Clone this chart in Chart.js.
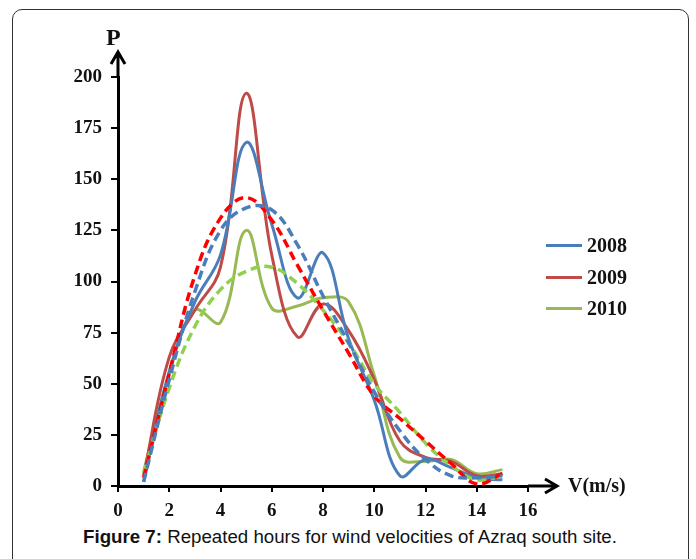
<!DOCTYPE html>
<html lang="en">
<head>
    <meta charset="UTF-8">
    <title>Figure 7 - Azraq south site</title>
    <script src="https://cdn.jsdelivr.net/npm/chart.js"></script>
    <style>
        body { margin: 0; background: #fff; width: 696px; height: 559px; overflow: hidden; position: relative; }
        .frame { position: absolute; left: 12px; top: 9px; width: 675px; height: 600px; border: 1.5px solid #333; border-radius: 10px 10px 0 0; }
        .chart-box { position: absolute; left: 0; top: 0; width: 696px; height: 516px; }
        .serif { font-family: 'Liberation Serif', 'Times New Roman', serif; font-weight: bold; color: #111; position: absolute; }
        #legend { position: absolute; left: 546px; top: 230px; width: 87px; overflow: hidden; }
        .legend-row { display: flex; align-items: center; height: 31.5px; }
        .legend-line { width: 36px; height: 3px; margin-right: 5px; }
        .caption { position: absolute; left: 0; top: 526px; width: 700px; text-align: center; font-family: 'Liberation Sans', Arial, sans-serif; font-size: 18.7px; color: #111; }
    </style>
</head>
<body>
    <div class="frame"></div>
    <div class="chart-box"><canvas id="chart" width="696" height="516"></canvas></div>
    <div class="serif" style="left:106px; top:24px; font-size:24px;">P</div>
    <div class="serif" style="left:568px; top:474px; width:61px; overflow:hidden; white-space:nowrap; font-size:20px;">V(m/s)</div>
    <div id="legend"></div>
    <div class="caption"><b>Figure 7:</b> Repeated hours for wind velocities of Azraq south site.</div>

    <script>
        // wind velocity classes (m/s)
        const velocities = [1, 2, 3, 4, 5, 6, 7, 8, 9, 10, 11, 12, 13, 14, 15];

        // repeated hours, measured
        const hours2008 = [2, 56, 90, 113, 168, 128, 92, 114, 72, 42, 5, 13, 9, 4, 3];
        const hours2009 = [5, 63, 86, 107, 192, 113, 73, 89, 76, 52, 22, 14, 12, 5, 6];
        const hours2010 = [7, 55, 86, 80, 125, 87, 88, 92, 90, 54, 14, 12, 13, 6, 8];

        // fitted curves (dashed)
        const fit2008 = [2, 52, 95, 125, 136, 135, 118, 93, 70, 46, 27, 13, 5, 4, 5];
        const fit2009 = [4, 55, 103, 131, 141, 130, 108, 86, 65, 44, 33, 22, 11, 1, 6];
        const fit2010 = [6, 48, 78, 96, 105, 107, 99, 86, 70, 50, 36, 21, 10, 3, 5];

        const xTicks = [0, 2, 4, 6, 8, 10, 12, 14, 16];
        const yTicks = [0, 25, 50, 75, 100, 125, 150, 175, 200];

        const seriesLabels = ['2008', '2009', '2010'];
        const solidColors = ['#4A7EBB', '#BE4B48', '#98B954'];
        const dashColors = ['#4A7EBB', '#FF0000', '#92D050'];

        const toPoints = vals => vals.map((v, i) => ({ x: velocities[i], y: v }));

        const solidSets = [hours2008, hours2009, hours2010].map((vals, i) => ({
            label: seriesLabels[i],
            data: toPoints(vals),
            borderColor: solidColors[i],
            borderWidth: 3,
            pointRadius: 0,
            tension: 0.4,
            fill: false
        }));
        const fitSets = [fit2008, fit2009, fit2010].map((vals, i) => ({
            label: 'fit ' + seriesLabels[i],
            data: toPoints(vals),
            borderColor: dashColors[i],
            borderWidth: 3.5,
            borderDash: [9, 5],
            pointRadius: 0,
            tension: 0.4,
            fill: false
        }));

        // legend in html, only the measured years
        const legendEl = document.getElementById('legend');
        seriesLabels.forEach((lab, i) => {
            legendEl.innerHTML += '<div class="legend-row"><div class="legend-line" style="background:' + solidColors[i] +
                '"></div><span class="serif" style="position:static;font-size:20px;">' + lab + '</span></div>';
        });

        // arrow heads on both axes
        const axisArrows = {
            id: 'axisArrows',
            afterDraw(chart) {
                const ctx = chart.ctx;
                const a = chart.chartArea;
                ctx.save();
                ctx.strokeStyle = '#000';
                ctx.lineWidth = 3;
                ctx.beginPath();
                ctx.moveTo(a.left, a.top);
                ctx.lineTo(a.left, a.top - 24);
                ctx.moveTo(a.left - 7, a.top - 13);
                ctx.lineTo(a.left, a.top - 25);
                ctx.lineTo(a.left + 7, a.top - 13);
                ctx.moveTo(a.right, a.bottom);
                ctx.lineTo(a.right + 28, a.bottom);
                ctx.moveTo(a.right + 17, a.bottom - 7);
                ctx.lineTo(a.right + 29, a.bottom);
                ctx.lineTo(a.right + 17, a.bottom + 7);
                ctx.stroke();
                ctx.restore();
            }
        };

        const tickFont = { family: "'Liberation Serif', 'Times New Roman', serif", weight: 'bold', size: 19 };

        new Chart(document.getElementById('chart').getContext('2d'), {
            type: 'line',
            data: { datasets: fitSets.concat(solidSets) },
            options: {
                responsive: false,
                animation: false,
                layout: { padding: { top: 77, right: 168, bottom: 0, left: 0 } },
                plugins: { legend: { display: false }, tooltip: { enabled: false } },
                scales: {
                    x: {
                        type: 'linear',
                        min: 0,
                        max: 16,
                        afterBuildTicks: s => { s.ticks = xTicks.map(v => ({ value: v })); },
                        afterFit: s => { s.height = 30; },
                        grid: { drawOnChartArea: false, color: '#000', lineWidth: 2, tickLength: 6 },
                        border: { color: '#000', width: 3 },
                        ticks: { color: '#111', font: tickFont, padding: 8, maxRotation: 0 }
                    },
                    y: {
                        min: 0,
                        max: 200,
                        afterBuildTicks: s => { s.ticks = yTicks.map(v => ({ value: v })); },
                        afterFit: s => { s.width = 118; },
                        grid: { drawOnChartArea: false, color: '#000', lineWidth: 2, tickLength: 7 },
                        border: { color: '#000', width: 3 },
                        ticks: { color: '#111', font: tickFont, padding: 9 }
                    }
                }
            },
            plugins: [axisArrows]
        });
    </script>
</body>
</html>
